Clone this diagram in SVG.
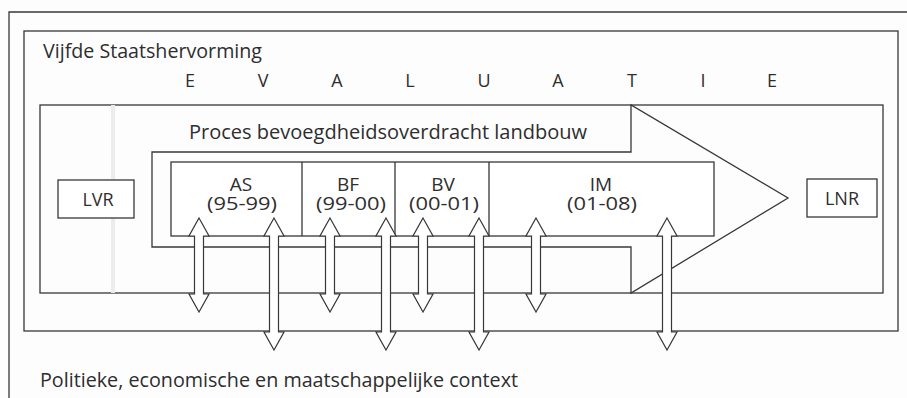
<svg xmlns="http://www.w3.org/2000/svg" xmlns:xlink="http://www.w3.org/1999/xlink" width="907" height="398" viewBox="0 0 907 398">
  <style>
    .ln { fill: none; stroke: #383838; stroke-width: 1.3; }
    .box { fill: #fff; stroke: #383838; stroke-width: 1.3; }
    .t { font-family: "Open Sans", "Noto Sans", "Liberation Sans", sans-serif; fill: #2e2e2e; }
    .big { font-size: 20px; }
    .ev { font-size: 18px; }
    .ph { font-size: 19px; }
    .mid { font-size: 18px; }
    .c { text-anchor: middle; }
    .dbl { fill: #fff; stroke: #383838; stroke-width: 1.2; stroke-linejoin: miter; }
  </style>
  <defs>
    <!-- hollow double-headed arrows, drawn from y=0 downwards -->
    <path id="dblShort" class="dbl" d="M0,0 L10,18 L4.5,18 L4.5,76 L10,76 L0,94 L-10,76 L-4.5,76 L-4.5,18 L-10,18 Z"/>
    <path id="dblLong" class="dbl" d="M0,0 L10,18 L4.5,18 L4.5,114 L10,114 L0,132 L-10,114 L-4.5,114 L-4.5,18 L-10,18 Z"/>
  </defs>

  <rect width="907" height="398" fill="#fdfdfd"/>

  <!-- outer context frame -->
  <g id="context">
    <path class="ln" d="M9,400 V12 H910"/>
    <text class="t big" x="40" y="387" textLength="478" lengthAdjust="spacingAndGlyphs">Politieke, economische en maatschappelijke context</text>
  </g>

  <!-- state reform frame with evaluation header -->
  <g id="staatshervorming">
    <rect class="ln" x="24" y="31" width="874" height="300"/>
    <text class="t big" x="43" y="58" textLength="219" lengthAdjust="spacingAndGlyphs">Vijfde Staatshervorming</text>
    <g class="t ev c">
      <text x="190" y="87">E</text>
      <text x="263" y="87">V</text>
      <text x="337" y="87">A</text>
      <text x="410" y="87">L</text>
      <text x="484" y="87">U</text>
      <text x="558" y="87">A</text>
      <text x="632" y="87">T</text>
      <text x="703" y="87">I</text>
      <text x="772" y="87">E</text>
    </g>
  </g>

  <!-- process frame and transfer arrow -->
  <g id="proces">
    <rect class="ln" x="40" y="105" width="843" height="188"/>
    <!-- faint vertical crease -->
    <line x1="113" y1="105" x2="113" y2="293" stroke="#ececec" stroke-width="4"/>
    <path class="ln" d="M631,105 V152 H152 V247 H631 V293 L788,198 Z"/>
    <text class="t big" x="189" y="139" textLength="398" lengthAdjust="spacingAndGlyphs">Proces bevoegdheidsoverdracht landbouw</text>
  </g>

  <!-- phases: name and period as a two-line label -->
  <g id="fasen">
    <rect class="box" x="171" y="162" width="543" height="74"/>
    <path class="ln" d="M302,162 V236 M395,162 V236 M489,162 V236"/>
    <g class="t ph c">
      <text id="fase-AS"><tspan x="241" y="191">AS</tspan><tspan x="242" y="210" textLength="70" lengthAdjust="spacingAndGlyphs">(95-99)</tspan></text>
      <text id="fase-BF"><tspan x="348" y="191">BF</tspan><tspan x="351" y="210" textLength="70" lengthAdjust="spacingAndGlyphs">(99-00)</tspan></text>
      <text id="fase-BV"><tspan x="443" y="191">BV</tspan><tspan x="444" y="210" textLength="70" lengthAdjust="spacingAndGlyphs">(00-01)</tspan></text>
      <text id="fase-IM"><tspan x="601" y="191">IM</tspan><tspan x="602" y="210" textLength="70" lengthAdjust="spacingAndGlyphs">(01-08)</tspan></text>
    </g>
  </g>

  <g id="LVR">
    <rect class="box" x="58" y="180" width="76" height="38"/>
    <text class="t mid c" x="98" y="206">LVR</text>
  </g>

  <g id="LNR">
    <rect class="box" x="807" y="179" width="70" height="38"/>
    <text class="t mid c" x="842" y="205">LNR</text>
  </g>

  <!-- interaction arrows between phases and context -->
  <g id="connectors">
    <use xlink:href="#dblShort" x="199" y="218"/>
    <use xlink:href="#dblLong" x="274" y="218"/>
    <use xlink:href="#dblShort" x="330" y="218"/>
    <use xlink:href="#dblLong" x="386" y="218"/>
    <use xlink:href="#dblShort" x="423" y="218"/>
    <use xlink:href="#dblLong" x="479" y="218"/>
    <use xlink:href="#dblShort" x="536" y="218"/>
    <use xlink:href="#dblLong" x="667" y="218"/>
  </g>
</svg>
